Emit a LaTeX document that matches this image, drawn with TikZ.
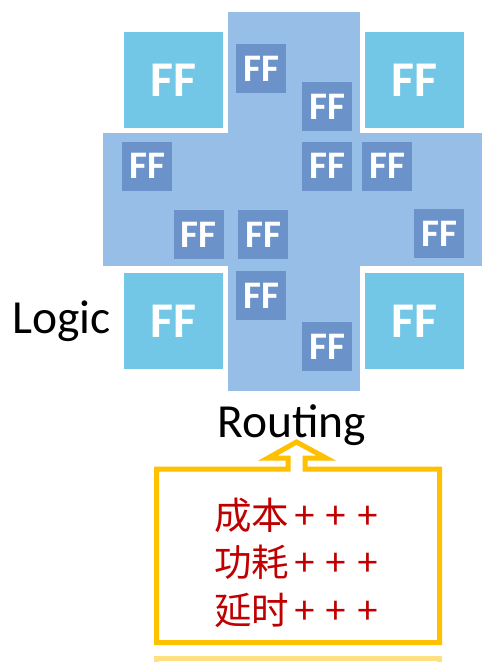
\documentclass[tikz,border=0pt]{standalone}
\usepackage{fontspec}
\setmainfont{Carlito}
\newfontfamily\cjkfont{Noto Sans CJK SC}
\definecolor{routeblue}{RGB}{150,190,230}
\definecolor{logicblue}{RGB}{114,198,230}
\definecolor{ffblue}{RGB}{107,147,201}
\definecolor{calloutgold}{RGB}{255,192,0}
\definecolor{costred}{RGB}{192,0,0}
\newcommand{\pluses}{\hspace{5pt}+\hspace{11pt}+\hspace{11pt}+}
\tikzset{
  routebar/.style={fill=routeblue, draw=none, inner sep=0pt, anchor=north west},
  bigff/.style={fill=logicblue, text=white, minimum width=99pt, minimum height=96pt,
    inner sep=0pt, font=\fontsize{50}{50}\selectfont\bfseries},
  smallff/.style={fill=ffblue, text=white, minimum width=50pt, minimum height=49pt,
    inner sep=0pt, font=\fontsize{39}{39}\selectfont\bfseries},
  label/.style={inner sep=0pt, font=\fontsize{47.5}{47.5}\selectfont},
  costline/.style={inner sep=0pt, anchor=west, text=costred,
    font=\cjkfont\fontsize{37.5}{37.5}\selectfont},
  callout/.style={draw=calloutgold, line width=5pt, line join=miter}
}
\begin{document}
\begin{tikzpicture}[x=1pt, y=-1pt]
\useasboundingbox (0,0) rectangle (485,662);
\fill[white] (0,0) rectangle (485,662);

% routing channels: a cross of two bars
\node[routebar, minimum width=132pt, minimum height=379pt] (vbar) at (228,12) {};
\node[routebar, minimum width=379pt, minimum height=133pt] (hbar) at (103,133) {};

% logic blocks in the corners
\node[bigff] (tl) at (173.5,80) {FF};
\node[bigff] (tr) at (414,80) {FF};
\node[bigff] (bl) at (173.5,321) {FF};
\node[bigff] (br) at (414,321) {FF};

% flip-flops scattered over the routing area
\node[smallff] (f1)  at (261,68.5)  {FF};
\node[smallff] (f2)  at (327,106.5) {FF};
\node[smallff] (f3)  at (147,166)   {FF};
\node[smallff] (f4)  at (327,166)   {FF};
\node[smallff] (f5)  at (387,166)   {FF};
\node[smallff] (f6)  at (198.5,234.5) {FF};
\node[smallff] (f7)  at (263,234.5) {FF};
\node[smallff] (f8)  at (439,233.5) {FF};
\node[smallff] (f9)  at (261,295.5) {FF};
\node[smallff] (f10) at (327,346.5) {FF};

% labels
\node[label, anchor=base west] (logic) at (12,333) {Logic};
\node[label, anchor=base] (routing) at (292,437) {Routing};

% up-arrow callout pointing at the routing label
\coordinate (tip) at (296.5,442);
\draw[callout] (156.5,469) -- (288,469) -- (288,458) -- (268,458) -- (tip)
  -- (326,458) -- (305,458) -- (305,469) -- (439.5,469) -- (439.5,642.5)
  -- (156.5,642.5) -- cycle;
\node[costline] (cost)  at (214,515) {成本\pluses};
\node[costline] (power) at (214,562) {功耗\pluses};
\node[costline] (delay) at (214,610) {延时\pluses};

% edge of the next callout below
\begin{scope}
\clip (0,650) rectangle (485,662);
\draw[draw=calloutgold, line width=5pt, opacity=0.5] (156.5,658) rectangle (439.5,700);
\end{scope}
\end{tikzpicture}
\end{document}
